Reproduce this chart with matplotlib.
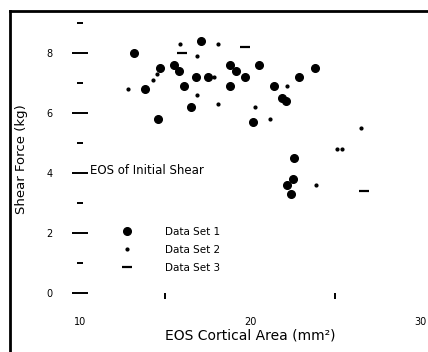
###########
# Imports #
###########
import matplotlib
matplotlib.use("Agg")
import matplotlib.pyplot as plt
from matplotlib.lines import Line2D

########
# Data #
########
# Data Set 1 (filled blobs)
set1_area = [13.2, 17.1, 15.5, 14.7, 13.8, 16.8, 17.5, 16.1, 16.5, 14.6,
             18.8, 19.2, 19.7, 20.5, 18.8, 21.4, 21.9, 22.1, 22.9, 23.8,
             20.2, 22.6, 22.5, 22.2, 22.4, 15.8]
set1_force = [8.0, 8.4, 7.6, 7.5, 6.8, 7.2, 7.2, 6.9, 6.2, 5.8,
              7.6, 7.4, 7.2, 7.6, 6.9, 6.9, 6.5, 6.4, 7.2, 7.5,
              5.7, 4.5, 3.8, 3.6, 3.3, 7.4]

# Data Set 2 (small points)
set2_area = [12.8, 15.9, 16.9, 18.1, 16.9, 18.1, 22.2, 20.3, 21.2, 14.3,
             23.9, 26.5, 25.1, 25.4, 14.5, 17.9]
set2_force = [6.8, 8.3, 7.9, 8.3, 6.6, 6.3, 6.9, 6.2, 5.8, 7.1,
              3.6, 5.5, 4.8, 4.8, 7.3, 7.2]

# Data Set 3 (dashes)
set3_area = [16.0, 19.7, 26.7]
set3_force = [8.0, 8.2, 3.4]

x_major = [10, 20, 30]
x_minor = [15, 25]
y_major = [0, 2, 4, 6, 8]
y_minor = [1, 3, 5, 7, 9]

############
# Plotting #
############
W, H = 428, 352
fig = plt.figure(figsize=(W / 100, H / 100), dpi=100)
ax = fig.add_axes([80 / W, 1 - 296 / H, 340 / W, 279 / H])

ax.plot(set1_area, set1_force, 'o', color='black', markersize=5.5,
        linestyle='none', label='Data Set 1')
ax.plot(set2_area, set2_force, 'o', color='black', markersize=2,
        linestyle='none', label='Data Set 2')
ax.plot(set3_area, set3_force, '_', color='black', markersize=7,
        markeredgewidth=1.6, linestyle='none', label='Data Set 3')

ax.set_xlim(10, 30)
ax.set_ylim(-0.1, 9.2)
for s in ax.spines.values():
    s.set_visible(False)

ax.set_xticks(x_major)
ax.set_xticks(x_minor, minor=True)
ax.set_yticks(y_major)
ax.set_yticks(y_minor, minor=True)

# y ticks: long dashes on majors, short on minors
ax.tick_params(axis='y', which='major', direction='inout', length=11,
               width=1.4, labelsize=7, pad=14)
ax.tick_params(axis='y', which='minor', direction='inout', length=5, width=1.4)
# x ticks: only the minor marks show
ax.tick_params(axis='x', which='major', length=0, labelsize=7, pad=15)
ax.tick_params(axis='x', which='minor', direction='inout', length=4, width=1.4)

ax.set_xlabel('EOS Cortical Area (mm²)', fontsize=10, labelpad=1)
fig.text(22 / W, 1 - 159 / H, 'Shear Force (kg)', rotation=90,
         fontsize=9.5, ha='center', va='center')

ax.text(90 / W, 1 - 170 / H, 'EOS of Initial Shear', fontsize=8.5,
        transform=fig.transFigure, va='center')

ax.legend(loc='upper left', bbox_to_anchor=(117 / W, 1 - 227 / H),
          bbox_transform=fig.transFigure, frameon=False, fontsize=7.5,
          borderpad=0, borderaxespad=0, handlelength=2.0,
          handletextpad=2.6, labelspacing=0.75)

# Frame around figure
fig.add_artist(Line2D([10 / W, 10 / W], [0, 1 - 11 / H], color='black',
                      linewidth=2, transform=fig.transFigure))
fig.add_artist(Line2D([10 / W, 1], [1 - 11 / H, 1 - 11 / H], color='black',
                      linewidth=2, transform=fig.transFigure))

fig.savefig('out.png', dpi=100)
